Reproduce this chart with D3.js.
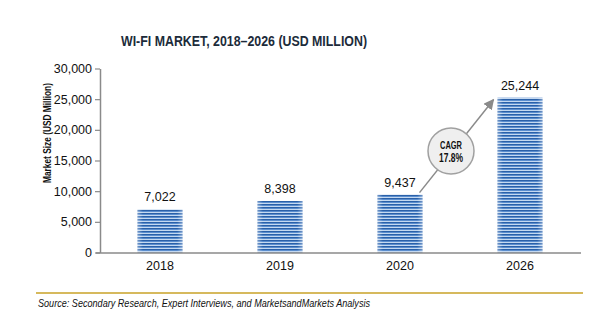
<!DOCTYPE html>
<html><head><meta charset="utf-8">
<script src="https://cdn.jsdelivr.net/npm/d3@7"></script>
<style>body{margin:0;background:#fff}svg{display:block}</style>
</head><body>
<script>
const categories = ["2018","2019","2020","2026"];
const values = [7022, 8398, 9437, 25244];
const yTicks = [0,5000,10000,15000,20000,25000,30000];
const title = "WI-FI MARKET, 2018\u20132026 (USD MILLION)";
const yLabel = "Market Size (USD Million)";
const source = "Source: Secondary Research, Expert Interviews, and MarketsandMarkets Analysis";
const cagrLines = ["CAGR","17.8%"];

const W=600,H=325;
const svg=d3.select("body").append("svg").attr("width",W).attr("height",H);
const defs=svg.append("defs");
const pat=defs.append("pattern").attr("id","stripe").attr("patternUnits","userSpaceOnUse").attr("width",4).attr("height",3);
pat.append("rect").attr("width",4).attr("height",3).attr("fill","#5a8dce");
pat.append("rect").attr("y",0).attr("width",4).attr("height",1).attr("fill","#2a60a8");
pat.append("rect").attr("y",2).attr("width",4).attr("height",1).attr("fill","#c4d8f0");
const grad=defs.append("linearGradient").attr("id","edge").attr("x1",0).attr("x2",1).attr("y1",0).attr("y2",0);
grad.append("stop").attr("offset","0").attr("stop-color","#fff").attr("stop-opacity",0.35);
grad.append("stop").attr("offset","0.12").attr("stop-color","#fff").attr("stop-opacity",0);
grad.append("stop").attr("offset","0.88").attr("stop-color","#fff").attr("stop-opacity",0);
grad.append("stop").attr("offset","1").attr("stop-color","#fff").attr("stop-opacity",0.35);

const x=d3.scaleBand().domain(categories).range([100,580]).paddingInner(0.625).paddingOuter(0.3125);
const y=d3.scaleLinear().domain([0,30000]).range([252.5,68.5]);
const cond="'Liberation Sans','DejaVu Sans Condensed',sans-serif";

svg.append("text").attr("x",121).attr("y",46).attr("font-family",cond)
  .attr("font-weight","bold").attr("font-size",14.5).attr("fill","#1c2b3a")
  .attr("textLength",246).attr("lengthAdjust","spacingAndGlyphs").text(title);

// bars
const g=svg.append("g");
g.selectAll("rect.bar").data(values).enter().append("rect").attr("class","bar")
 .attr("x",(d,i)=>x(categories[i])).attr("width",x.bandwidth())
 .attr("y",d=>y(d)).attr("height",d=>y(0)-y(d)).attr("fill","url(#stripe)");
g.selectAll("rect.edge").data(values).enter().append("rect").attr("class","edge")
 .attr("x",(d,i)=>x(categories[i])).attr("width",x.bandwidth())
 .attr("y",d=>y(d)).attr("height",d=>y(0)-y(d)).attr("fill","url(#edge)");
g.selectAll("text.val").data(values).enter().append("text").attr("class","val")
 .attr("x",(d,i)=>x(categories[i])+x.bandwidth()/2).attr("y",d=>y(d)-8)
 .attr("text-anchor","middle").attr("font-family","'Liberation Sans',Arial,sans-serif").attr("font-size",12.5).attr("fill","#111")
 .text(d=>d3.format(",")(d));

// y axis
const ya=svg.append("g").attr("transform","translate(100,0)")
 .call(d3.axisLeft(y).tickValues(yTicks).tickSize(5).tickSizeOuter(0).tickFormat(d3.format(",")));
ya.select(".domain").attr("stroke","#8a8a8a").attr("stroke-width",1.5);
ya.selectAll(".tick line").attr("stroke","#8a8a8a").attr("stroke-width",1.2);
ya.selectAll(".tick text").attr("font-family","'Liberation Sans',Arial,sans-serif").attr("font-size",12.5).attr("fill","#111").attr("x",-8);

// x axis
const xa=svg.append("g").attr("transform",`translate(0,${y(0)})`)
 .call(d3.axisBottom(x).tickSize(0).tickSizeOuter(0));
xa.select(".domain").attr("d","M96,0.5H581").attr("stroke","#8a8a8a").attr("stroke-width",1.5);
xa.selectAll(".tick text").attr("font-family","'Liberation Sans',Arial,sans-serif").attr("font-size",12.5).attr("fill","#111").attr("dy",0).attr("y",17);

svg.append("text").attr("transform","translate(51,133) rotate(-90)").attr("text-anchor","middle")
 .attr("font-family",cond).attr("font-weight","bold").attr("font-size",11).attr("fill","#111")
 .attr("textLength",100).attr("lengthAdjust","spacingAndGlyphs").text(yLabel);

// CAGR arrow
const x0=x("2020")+x.bandwidth()-3, y0=y(values[2])-2;
const x1=x("2026")-4, y1=y(values[3])+2;
defs.append("marker").attr("id","arr").attr("viewBox","0 0 10 10").attr("refX",9).attr("refY",5)
 .attr("markerWidth",7).attr("markerHeight",7).attr("orient","auto")
 .append("path").attr("d","M0,0L10,5L0,10z").attr("fill","#8a8a8a");
svg.append("line").attr("x1",x0).attr("y1",y0).attr("x2",x1).attr("y2",y1).attr("stroke","#8a8a8a").attr("stroke-width",1.5).attr("marker-end","url(#arr)");
const cx=451, cy=151;
svg.append("circle").attr("cx",cx).attr("cy",cy).attr("r",23).attr("fill","#efefef").attr("stroke","#a0a0a0").attr("stroke-width",1.5);
svg.append("text").attr("x",cx).attr("y",cy-2).attr("text-anchor","middle").attr("font-family",cond).attr("font-weight","bold").attr("font-size",10.5).attr("fill","#111")
 .attr("textLength",22).attr("lengthAdjust","spacingAndGlyphs").text(cagrLines[0]);
svg.append("text").attr("x",cx).attr("y",cy+11).attr("text-anchor","middle").attr("font-family",cond).attr("font-weight","bold").attr("font-size",12).attr("fill","#111")
 .attr("textLength",24).attr("lengthAdjust","spacingAndGlyphs").text(cagrLines[1]);

// footer
svg.append("line").attr("x1",36).attr("x2",583).attr("y1",293).attr("y2",293).attr("stroke","#c9a227").attr("stroke-width",1.5);
svg.append("text").attr("x",38).attr("y",307).attr("font-family",cond).attr("font-style","italic").attr("font-size",11).attr("fill","#111")
 .attr("textLength",332).attr("lengthAdjust","spacingAndGlyphs").text(source);
</script>
</body></html>
